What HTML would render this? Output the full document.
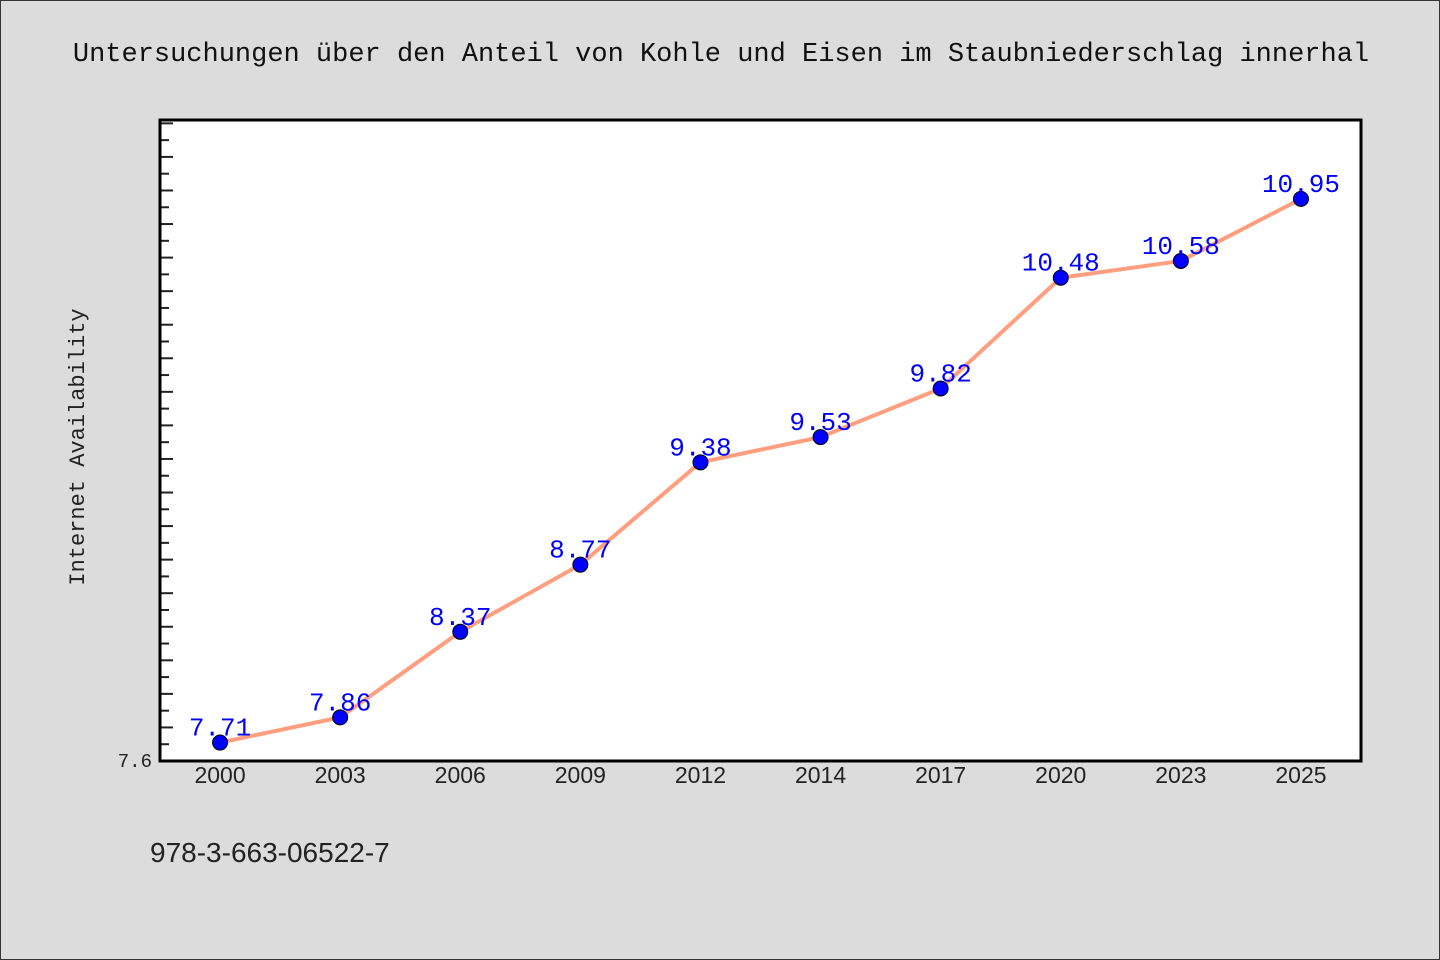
<!DOCTYPE html>
<html><head><meta charset="utf-8"><style>
html,body{margin:0;padding:0;background:#dcdcdc;}
svg{display:block;}
</style></head><body>
<svg width="1440" height="960" xmlns="http://www.w3.org/2000/svg">
<rect x="0.5" y="0.5" width="1439" height="959" fill="#dcdcdc" stroke="#333"/>
<text x="721" y="61" text-anchor="middle" font-family="Liberation Mono, monospace" font-size="27" fill="#111">Untersuchungen über den Anteil von Kohle und Eisen im Staubniederschlag innerhal</text>
<rect x="160" y="120" width="1201" height="641" fill="#fff"/>
<g id="ticks"></g>
<g id="line"></g>
<g id="points"></g>
<g id="labels"></g>
<rect x="160" y="120" width="1201" height="641" fill="none" stroke="#000" stroke-width="3"/>
<g id="xlabels"></g>
<text x="152" y="767" text-anchor="end" font-family="Liberation Mono, monospace" font-size="19" fill="#222">7.6</text>
<text transform="translate(84,447) rotate(-90)" text-anchor="middle" font-family="Liberation Mono, monospace" font-size="22" fill="#222">Internet Availability</text>
<text x="150" y="862" font-family="Liberation Sans, sans-serif" font-size="28" fill="#222">978-3-663-06522-7</text>
</svg>
<script>
const categories = ["2000","2003","2006","2009","2012","2014","2017","2020","2023","2025"];
const values = [7.71,7.86,8.37,8.77,9.38,9.53,9.82,10.48,10.58,10.95];
const labels = ["7.71","7.86","8.37","8.77","9.38","9.53","9.82","10.48","10.58","10.95"];
const yMin = 7.6, yMax = 11.42;
const NS="http://www.w3.org/2000/svg";
const X0=160,X1=1361,Y0=761,Y1=120;
const band=(X1-X0)/categories.length;
function xs(i){return X0+band*(i+0.5);}
function ys(v){return Y0-(v-yMin)/(yMax-yMin)*(Y0-Y1);}
function mk(t,a){const e=document.createElementNS(NS,t);for(const k in a)e.setAttribute(k,a[k]);return e;}
const tg=document.getElementById('ticks');
for(let k=1;;k++){const v=yMin+k*0.1;if(v>yMax)break;const y=ys(v);
 const e=mk('line',{x1:X0,x2:X0+(k%2===0?13:9),y1:y,y2:y,stroke:'#222','stroke-width':2});
 
 
 tg.appendChild(e);}
const pts=values.map((v,i)=>xs(i)+','+ys(v)).join(' ');
const pl=mk('polyline',{points:pts,fill:'none',stroke:'#ff9f7f','stroke-width':4,'stroke-linejoin':'round'});


document.getElementById('line').appendChild(pl);
const pg=document.getElementById('points'),lg=document.getElementById('labels'),xg=document.getElementById('xlabels');
values.forEach((v,i)=>{
 const c=mk('circle',{cx:xs(i),cy:ys(v),r:7.5,fill:'#0000ff',stroke:'#000','stroke-width':1});
 
 
 pg.appendChild(c);
 const t=mk('text',{x:xs(i),y:ys(v)-7,'text-anchor':'middle','font-family':'Liberation Mono, monospace','font-size':26,fill:'#0000ff'});
 t.textContent=labels[i];
 
 
 lg.appendChild(t);
 const xt=mk('text',{x:xs(i),y:783,'text-anchor':'middle','font-family':'Liberation Sans, sans-serif','font-size':23,fill:'#222'});
 xt.textContent=categories[i];
 
 
 xg.appendChild(xt);
});
</script>
</body></html>
